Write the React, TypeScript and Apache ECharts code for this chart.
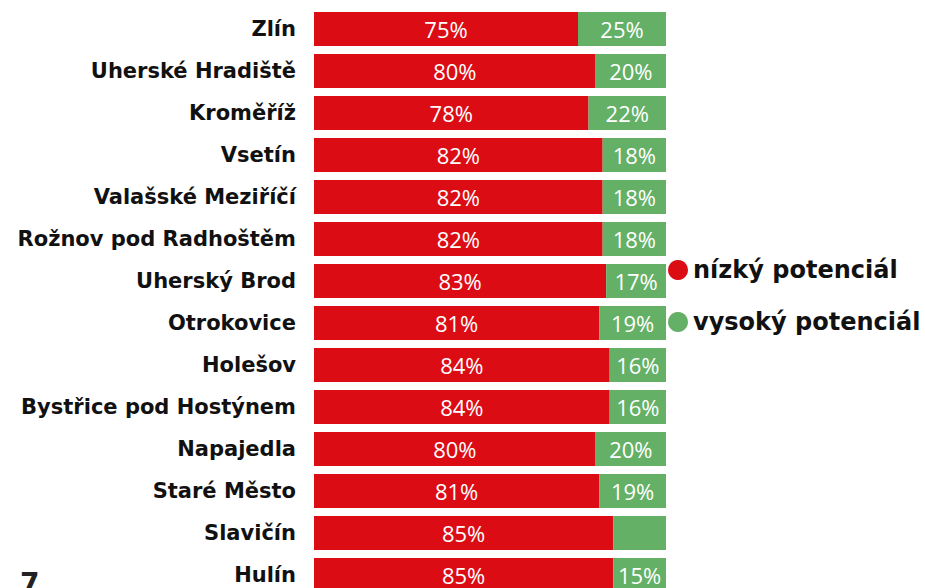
import React, { useEffect, useRef } from "react";
import * as echarts from "echarts";

const categories = [
  "Zlín",
  "Uherské Hradiště",
  "Kroměříž",
  "Vsetín",
  "Valašské Meziříčí",
  "Rožnov pod Radhoštěm",
  "Uherský Brod",
  "Otrokovice",
  "Holešov",
  "Bystřice pod Hostýnem",
  "Napajedla",
  "Staré Město",
  "Slavičín",
  "Hulín",
];
const lowValues = [75, 80, 78, 82, 82, 82, 83, 81, 84, 84, 80, 81, 85, 85];
const highValues = [25, 20, 22, 18, 18, 18, 17, 19, 16, 16, 20, 19, 15, 15];
const highLabelHidden = ["Slavičín"];
const seriesNames = ["nízký potenciál", "vysoký potenciál"];

export default function App() {
  const ref = useRef<HTMLDivElement>(null);
  useEffect(() => {
    if (!ref.current) return;
    const chart = echarts.init(ref.current, null, { renderer: "svg" });
    const labelStyle = {
      show: true,
      position: "inside",
      color: "#ffffff",
      fontFamily: "Open Sans",
      fontSize: 22,
      formatter: (p: any) => `${p.value}%`,
    };
    chart.setOption({
      animation: false,
      backgroundColor: "#ffffff",
      legend: {
        orient: "vertical",
        left: 668,
        top: 254,
        padding: 0,
        icon: "circle",
        itemWidth: 20,
        itemHeight: 20,
        itemGap: 20,
        textStyle: {
          fontFamily: "DejaVu Sans",
          fontWeight: "bold",
          fontSize: 24,
          color: "#111111",
          lineHeight: 32,
        },
        data: seriesNames,
      },
      grid: { left: 314, top: 8, width: 352, height: 588, outerBoundsMode: "none" },
      xAxis: {
        type: "value",
        min: 0,
        max: 100,
        show: false,
      },
      yAxis: {
        type: "category",
        inverse: true,
        data: categories,
        axisLine: { show: false },
        axisTick: { show: false },
        axisLabel: {
          margin: 18,
          fontFamily: "DejaVu Sans",
          fontWeight: "bold",
          fontSize: 21,
          color: "#111111",
        },
      },
      series: [
        {
          name: seriesNames[0],
          type: "bar",
          stack: "total",
          barWidth: 34,
          itemStyle: { color: "#DC0C15" },
          label: labelStyle,
          data: lowValues,
        },
        {
          name: seriesNames[1],
          type: "bar",
          stack: "total",
          barWidth: 34,
          itemStyle: { color: "#64B066" },
          label: labelStyle,
          data: highValues.map((v, i) => ({
            value: v,
            label: { show: !highLabelHidden.includes(categories[i]) },
          })),
        },
      ],
      graphic: [
        {
          type: "text",
          left: 20,
          top: 569,
          style: {
            text: "7",
            fontFamily: "DejaVu Sans",
            fontWeight: "bold",
            fontSize: 28,
            fill: "#222222",
          },
        },
      ],
    });
    return () => chart.dispose();
  }, []);
  return (
    <div
      ref={ref}
      style={{ position: "fixed", left: 0, top: 0, width: 925, height: 588, overflow: "hidden" }}
    />
  );
}
